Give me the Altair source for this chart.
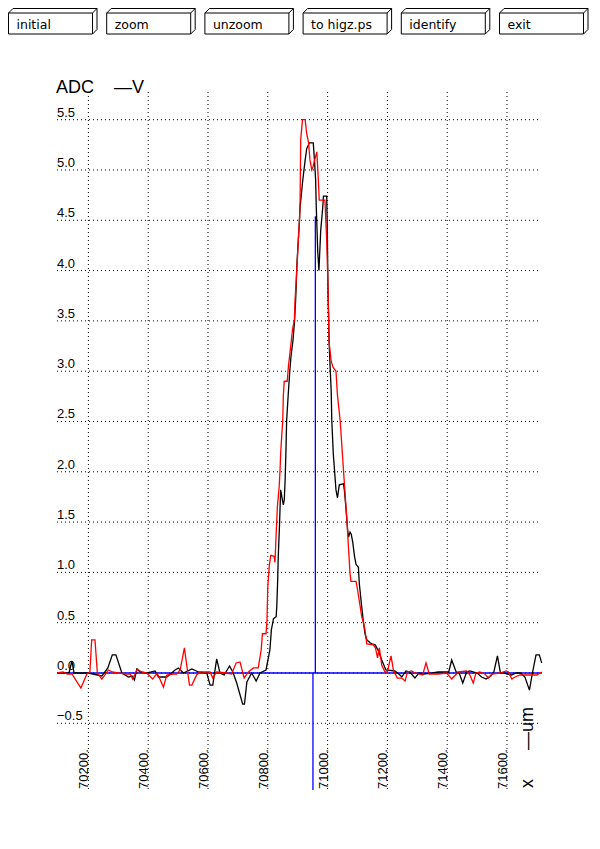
import altair as alt
import pandas as pd

# ---------------- data ----------------
# black trace: (x in um, ADC in V)
black_pts = [
    (70096, 0), (70135, 0), (70145, 0.12), (70152, 0), (70200, 0), (70230, -0.02),
    (70245, -0.03), (70265, 0.05), (70280, 0.18), (70292, 0.18), (70312, 0), (70334, -0.04),
    (70346, -0.03), (70354, -0.07), (70362, 0.04), (70373, 0.01), (70395, 0), (70410, 0.01),
    (70423, 0.02), (70434, -0.04), (70462, -0.04), (70490, 0.03), (70501, 0.05), (70518, 0),
    (70546, 0.04), (70568, 0.01), (70596, 0), (70607, -0.12), (70616, -0.12), (70629, 0.14),
    (70640, 0), (70654, -0.02), (70672, 0.07), (70683, 0.01), (70696, -0.1), (70716, -0.31),
    (70722, -0.31), (70730, -0.09), (70746, 0), (70761, -0.08), (70774, 0), (70794, 0.03),
    (70807, 0.23), (70812, 0.43), (70819, 0.54), (70828, 0.56), (70830, 0.66), (70833, 0.92),
    (70835, 1.16), (70839, 1.46), (70843, 1.82), (70847, 1.75), (70852, 1.67), (70855, 1.72),
    (70858, 1.92), (70861, 2.25), (70863, 2.51), (70869, 2.8), (70874, 3.02), (70878, 3.16),
    (70884, 3.3), (70889, 3.48), (70893, 3.7), (70895, 3.85), (70897, 4.04), (70900, 4.2),
    (70904, 4.4), (70908, 4.63), (70917, 4.9), (70925, 5.1), (70930, 5.21), (70939, 5.27),
    (70952, 5.27), (70956, 5.1), (70960, 4.9), (70962, 4.64), (70967, 4.19), (70971, 4.0),
    (70977, 4.4), (70980, 4.5), (70984, 4.64), (70986, 4.74), (70997, 4.74), (70999, 4.4),
    (71001, 3.87), (71005, 3.29), (71008, 3.07), (71012, 2.8), (71014, 2.51), (71019, 2.18),
    (71028, 1.82), (71033, 1.74), (71039, 1.87), (71053, 1.88), (71056, 1.82), (71061, 1.65),
    (71067, 1.42), (71070, 1.35), (71075, 1.4), (71079, 1.38), (71084, 1.3), (71090, 1.16),
    (71095, 1.08), (71103, 1.05), (71106, 0.89), (71114, 0.66), (71120, 0.5), (71125, 0.39),
    (71131, 0.33), (71142, 0.3), (71148, 0.29), (71159, 0.28), (71170, 0.22), (71181, 0.13),
    (71195, 0.03), (71225, 0.02), (71242, -0.02), (71248, -0.04), (71262, 0.02), (71275, 0.01),
    (71292, -0.05), (71305, 0), (71320, -0.01), (71350, 0), (71370, 0.01), (71405, 0.01),
    (71415, 0.13), (71430, 0.01), (71440, 0), (71452, -0.1), (71465, 0.01), (71476, 0.02),
    (71487, 0.01), (71500, 0), (71515, -0.04), (71530, -0.06), (71545, -0.03), (71556, 0.01),
    (71568, 0.17), (71578, 0), (71590, 0), (71600, -0.01), (71615, -0.02), (71630, 0),
    (71645, 0), (71660, -0.04), (71675, -0.17), (71685, 0), (71697, 0.18), (71708, 0.18),
    (71716, 0.1),
]

# red trace: (x in um, ADC in V)
red_pts = [
    (70096, 0), (70115, 0.01), (70130, -0.01), (70145, -0.01), (70175, -0.15), (70195, -0.01),
    (70205, 0.01), (70211, 0.33), (70222, 0.33), (70230, 0), (70245, -0.06), (70267, 0.03),
    (70280, 0.01), (70300, 0), (70330, -0.01), (70340, -0.01), (70348, -0.06), (70364, 0.04),
    (70377, 0.01), (70395, 0), (70415, -0.06), (70430, 0), (70451, -0.14), (70462, -0.02),
    (70484, -0.01), (70495, -0.01), (70507, 0.03), (70521, 0.25), (70538, -0.12), (70546, -0.12),
    (70562, -0.02), (70573, 0.01), (70607, 0.01), (70616, -0.05), (70629, 0.01), (70662, 0),
    (70679, -0.01), (70694, 0.1), (70707, 0.11), (70721, -0.05), (70735, 0.01), (70752, 0.05),
    (70768, 0.05), (70778, 0.23), (70782, 0.39), (70794, 0.39), (70797, 0.5), (70800, 0.86),
    (70805, 1.07), (70810, 1.17), (70821, 1.16), (70824, 1.1), (70828, 1.39), (70832, 1.65),
    (70838, 1.85), (70841, 2.02), (70843, 2.18), (70847, 2.38), (70850, 2.51), (70852, 2.76),
    (70855, 2.9), (70865, 2.9), (70869, 3.05), (70874, 3.18), (70880, 3.34), (70883, 3.42),
    (70889, 3.51), (70891, 3.7), (70895, 3.9), (70899, 4.12), (70902, 4.3), (70906, 4.5),
    (70908, 4.7), (70910, 5.3), (70916, 5.5), (70925, 5.5), (70930, 5.36), (70936, 5.28),
    (70941, 5.1), (70947, 5.0), (70951, 5.03), (70955, 5.08), (70964, 5.18), (70969, 4.9),
    (70972, 4.7), (70991, 4.7), (70997, 4.3), (71001, 3.87), (71003, 3.58), (71005, 3.29),
    (71012, 3.1), (71018, 3.04), (71028, 3.0), (71033, 2.76), (71042, 2.51), (71053, 2.02),
    (71058, 1.8), (71064, 1.55), (71069, 1.29), (71075, 0.99), (71078, 0.91), (71095, 0.91),
    (71100, 0.83), (71109, 0.66), (71114, 0.56), (71120, 0.5), (71125, 0.43), (71131, 0.29),
    (71153, 0.28), (71160, 0.25), (71167, 0.15), (71173, 0.25), (71181, 0.08), (71192, 0.01),
    (71200, 0.01), (71212, 0.17), (71220, 0.03), (71233, -0.05), (71248, -0.05), (71259, -0.08),
    (71267, 0.01), (71281, 0.02), (71292, 0), (71318, -0.02), (71329, 0.1), (71340, -0.01),
    (71370, -0.01), (71398, 0), (71415, -0.06), (71437, 0.01), (71465, 0.02), (71476, -0.02),
    (71487, -0.1), (71496, 0), (71509, 0.01), (71526, -0.01), (71538, -0.05), (71549, -0.01),
    (71577, 0), (71597, 0.02), (71605, 0.01), (71616, -0.06), (71627, -0.04), (71644, -0.02),
    (71666, -0.02), (71700, -0.02), (71710, 0), (71716, 0.01),
]

# blue marker lines: (x, y_from, y_to)
marker_lines = [(70959, 4.54, 0.0), (70951, 0.0, -1.163)]
zero_level = [0.0]

y_ticks = [5.5, 5.0, 4.5, 4.0, 3.5, 3.0, 2.5, 2.0, 1.5, 1.0, 0.5, 0.0, -0.5]
y_tick_labels = ["5.5", "5.0", "4.5", "4.0", "3.5", "3.0", "2.5", "2.0", "1.5", "1.0", "0.5", "0.0", "\u22120.5"]
x_ticks = [70200, 70400, 70600, 70800, 71000, 71200, 71400, 71600]
x_tick_labels = ["70200.", "70400.", "70600.", "70800.", "71000.", "71200.", "71400.", "71600."]
buttons = ["initial", "zoom", "unzoom", "to higz.ps", "identify", "exit"]

# ---------------- layout ----------------
X_DOMAIN = [70095, 71717]
Y_DOMAIN = [-1.163, 5.775]
W, H = 485, 698
PAD_L, PAD_T, PAD_R, PAD_B = 49, 84, 50, 40
ORIGIN_X, ORIGIN_Y = 8 + PAD_L, 8 + PAD_T   # page position of plot origin

xs = alt.Scale(domain=X_DOMAIN, nice=False, zero=False)
ys = alt.Scale(domain=Y_DOMAIN, nice=False, zero=False)
FONT = "Liberation Sans"


def px2x(px):
    return X_DOMAIN[0] + (px - ORIGIN_X) / W * (X_DOMAIN[1] - X_DOMAIN[0])


def py2y(py):
    return Y_DOMAIN[1] - (py - ORIGIN_Y) / H * (Y_DOMAIN[1] - Y_DOMAIN[0])


def X(f):
    return alt.X(f, type="quantitative", scale=xs, axis=None)


def Y(f):
    return alt.Y(f, type="quantitative", scale=ys, axis=None)


black_df = pd.DataFrame(black_pts, columns=["x", "y"]).reset_index()
red_df = pd.DataFrame(red_pts, columns=["x", "y"]).reset_index()
ytick_df = pd.DataFrame({"v": y_ticks, "label": y_tick_labels})
xtick_df = pd.DataFrame({"v": x_ticks, "label": x_tick_labels})
marker_df = pd.DataFrame(marker_lines, columns=["x", "y1", "y2"])
zero_df = pd.DataFrame({"y": zero_level})

# buttons (UI chrome): geometry in page pixels converted to data units
B_LEFT, B_STEP, B_W, B_TOP, B_BOT, B_DX, B_DY = 8.5, 98.2, 84, 13, 34, 4.5, -4.5
rects, segs, labels = [], [], []
for i, name in enumerate(buttons):
    l = B_LEFT + i * B_STEP
    r = l + B_W
    rects.append({"x1": px2x(l), "x2": px2x(r), "y1": py2y(B_TOP), "y2": py2y(B_BOT)})
    for (ax, ay, bx, by) in [
        (l, B_TOP, l + B_DX, B_TOP + B_DY),
        (l + B_DX, B_TOP + B_DY, r + B_DX, B_TOP + B_DY),
        (r, B_TOP, r + B_DX, B_TOP + B_DY),
        (r + B_DX, B_TOP + B_DY, r + B_DX, B_BOT + B_DY),
        (r, B_BOT, r + B_DX, B_BOT + B_DY),
    ]:
        segs.append({"x1": px2x(ax), "y1": py2y(ay), "x2": px2x(bx), "y2": py2y(by)})
    labels.append({"x": px2x(l + 8), "y": py2y(29), "label": name})
rect_df = pd.DataFrame(rects)
seg_df = pd.DataFrame(segs)
blab_df = pd.DataFrame(labels)

# ---------------- layers ----------------
hgrid = alt.Chart(ytick_df).mark_rule(color="black", strokeWidth=1, strokeDash=[1, 3]).encode(
    y=Y("v"), x=alt.value(0), x2=alt.value(W - 2))
vgrid = alt.Chart(xtick_df).mark_rule(color="black", strokeWidth=1, strokeDash=[1, 3]).encode(
    x=X("v"), y=alt.value(0), y2=alt.value(H))

zero_line = alt.Chart(zero_df).mark_rule(color="#0000ff", strokeWidth=1.3).encode(
    y=Y("y"), x=alt.value(0), x2=alt.value(W))
markers = alt.Chart(marker_df).mark_rule(color="#0000ff", strokeWidth=1.3).encode(
    x=X("x"), y=Y("y1"), y2="y2")

black_line = alt.Chart(black_df).mark_line(color="black", strokeWidth=1.3).encode(
    x=X("x"), y=Y("y"), order="index:Q")
red_line = alt.Chart(red_df).mark_line(color="#ff0000", strokeWidth=1.3).encode(
    x=X("x"), y=Y("y"), order="index:Q")

ylabels = alt.Chart(ytick_df).mark_text(
    align="left", baseline="alphabetic", dy=-3, font=FONT, fontSize=13, color="black").encode(
    y=Y("v"), x=alt.value(0), text="label:N")
xlabels = alt.Chart(xtick_df).mark_text(
    align="left", baseline="alphabetic", angle=270, font=FONT, fontSize=13, color="black").encode(
    x=X("v"), y=alt.value(H - 1), text="label:N")

ytitle_a = alt.Chart(pd.DataFrame({"t": ["ADC"]})).mark_text(
    align="left", baseline="alphabetic", font=FONT, fontSize=18, color="black").encode(
    text="t:N", x=alt.value(-1), y=alt.value(1.3))
ytitle_b = alt.Chart(pd.DataFrame({"t": ["\u2014V"]})).mark_text(
    align="left", baseline="alphabetic", font=FONT, fontSize=18, color="black").encode(
    text="t:N", x=alt.value(57), y=alt.value(1.3))
xtitle_a = alt.Chart(pd.DataFrame({"t": ["x"]})).mark_text(
    align="left", baseline="alphabetic", angle=270, font=FONT, fontSize=18, color="black").encode(
    text="t:N", x=alt.value(476), y=alt.value(696))
xtitle_b = alt.Chart(pd.DataFrame({"t": ["\u2014um"]})).mark_text(
    align="left", baseline="alphabetic", angle=270, font=FONT, fontSize=18, color="black").encode(
    text="t:N", x=alt.value(476), y=alt.value(658))

btn_rect = alt.Chart(rect_df).mark_rect(fill="white", stroke="black", strokeWidth=1).encode(
    x=X("x1"), x2="x2", y=Y("y1"), y2="y2")
btn_segs = alt.Chart(seg_df).mark_rule(color="black", strokeWidth=1).encode(
    x=X("x1"), x2="x2", y=Y("y1"), y2="y2")
btn_text = alt.Chart(blab_df).mark_text(
    align="left", baseline="alphabetic", font="DejaVu Sans", fontSize=12.5, color="black").encode(
    x=X("x"), y=Y("y"), text="label:N")

chart = alt.layer(
    hgrid, vgrid, zero_line, markers, black_line, red_line,
    ylabels, xlabels, ytitle_a, ytitle_b, xtitle_a, xtitle_b,
    btn_rect, btn_segs, btn_text,
).properties(
    width=W, height=H,
    autosize=alt.AutoSizeParams(type="none"),
    padding={"left": PAD_L, "top": PAD_T, "right": PAD_R, "bottom": PAD_B},
    background="white",
).configure_view(strokeWidth=0)

chart.save("out.html", embed_options={"renderer": "svg", "actions": False})
